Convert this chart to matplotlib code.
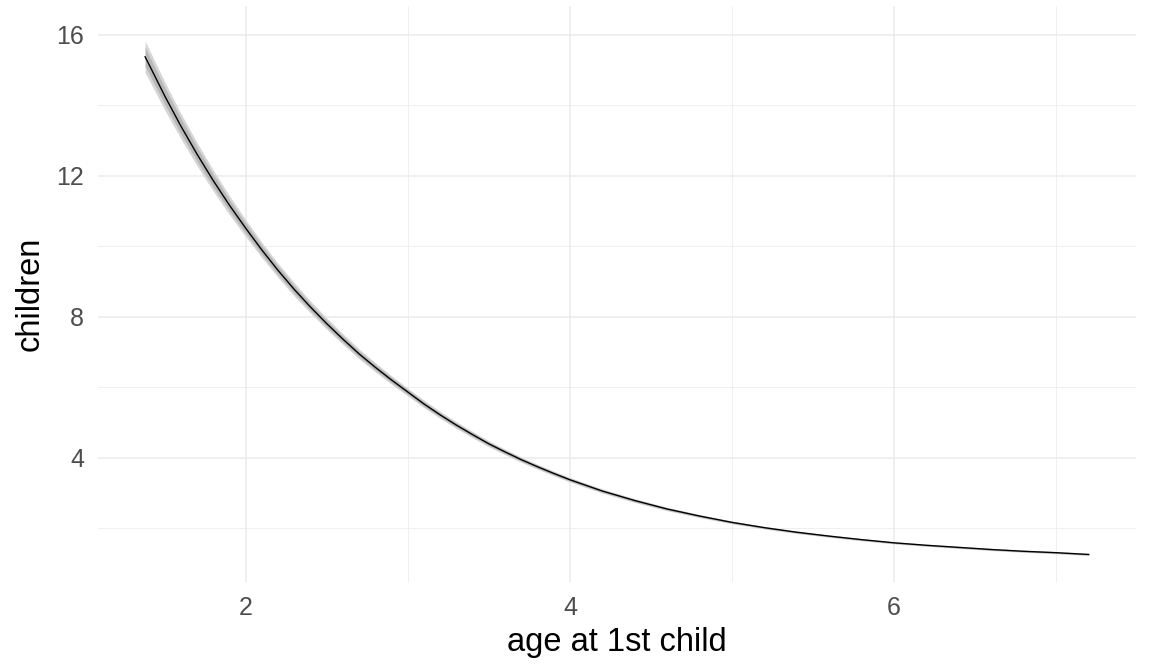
import matplotlib
matplotlib.use("Agg")
import matplotlib.pyplot as plt
import numpy as np

# values
age = [1.38, 1.4, 1.5, 1.6, 1.7, 1.8, 1.9, 2.0, 2.1, 2.2, 2.3, 2.4, 2.5, 2.6,
       2.7, 2.8, 2.9, 3.0, 3.1, 3.2, 3.3, 3.4, 3.5, 3.6, 3.7, 3.8, 3.9, 4.0,
       4.2, 4.4, 4.6, 4.8, 5.0, 5.2, 5.4, 5.6, 5.8, 6.0, 6.2, 6.4, 6.6, 6.8,
       7.0, 7.2]
children = [15.38, 15.20, 14.28, 13.42, 12.62, 11.87, 11.17, 10.52, 9.90, 9.32,
            8.78, 8.28, 7.81, 7.37, 6.95, 6.57, 6.21, 5.87, 5.53, 5.22, 4.93,
            4.66, 4.40, 4.17, 3.95, 3.75, 3.56, 3.38, 3.06, 2.79, 2.55, 2.35,
            2.17, 2.02, 1.89, 1.78, 1.68, 1.59, 1.52, 1.46, 1.40, 1.35, 1.31, 1.26]
# half widths of the two grey bands (outer / inner)
band_outer = [0.45, 0.44, 0.40, 0.36, 0.33, 0.30, 0.27, 0.24, 0.22, 0.20,
              0.19, 0.17, 0.16, 0.15, 0.14, 0.13, 0.12, 0.11, 0.105, 0.10, 0.095,
              0.09, 0.085, 0.08, 0.075, 0.07, 0.068, 0.065, 0.06, 0.055, 0.05, 0.045,
              0.04, 0.038, 0.036, 0.034, 0.032, 0.03, 0.03, 0.03, 0.03, 0.03, 0.03, 0.03]
band_inner = [0.27, 0.26, 0.24, 0.22, 0.20, 0.18, 0.16, 0.145, 0.13, 0.12,
              0.11, 0.10, 0.095, 0.09, 0.085, 0.08, 0.075, 0.07, 0.065, 0.06, 0.057,
              0.054, 0.051, 0.048, 0.045, 0.043, 0.041, 0.039, 0.036, 0.033, 0.03, 0.027,
              0.024, 0.023, 0.022, 0.021, 0.02, 0.018, 0.018, 0.018, 0.018, 0.018, 0.018, 0.018]

x_major = [2, 4, 6]
x_minor = [3, 5, 7]
y_major = [4, 8, 12, 16]
y_minor = [2, 6, 10, 14]
y_range = (0.48, 16.82)

plt.rcParams["font.family"] = ["Liberation Sans", "DejaVu Sans"]

fig = plt.figure(figsize=(11.52, 6.72), dpi=100)
ax = fig.add_axes([0.085, 0.134, 0.901, 0.857])

x = np.array(age)
y = np.array(children)
bo = np.array(band_outer)
bi = np.array(band_inner)

ax.fill_between(x, y - bo, y + bo, color="#d6d6d6", lw=0, zorder=2)
ax.fill_between(x, y - bi, y + bi, color="#b8b8b8", lw=0, zorder=3)
ax.plot(x, y, color="black", lw=1.0, zorder=4, solid_joinstyle="round")

pad_x = 0.05 * (x.max() - x.min())
ax.set_xlim(x.min() - pad_x, x.max() + pad_x)
ax.set_ylim(*y_range)

ax.set_xticks(x_major)
ax.set_xticks(x_minor, minor=True)
ax.set_yticks(y_major)
ax.set_yticks(y_minor, minor=True)
ax.grid(which="major", color="#ebebeb", lw=1.1, zorder=0)
ax.grid(which="minor", color="#ebebeb", lw=0.55, zorder=0)
ax.set_axisbelow(True)

for s in ax.spines.values():
    s.set_visible(False)
ax.tick_params(which="both", length=0, labelsize=18, labelcolor="#4d4d4d")
ax.tick_params(axis="x", pad=10)
ax.tick_params(axis="y", pad=10)

ax.set_xlabel("age at 1st child", fontsize=23.5, labelpad=5)
ax.set_ylabel("children", fontsize=23.5, labelpad=8)

fig.savefig("out.png", dpi=100, facecolor="white")
